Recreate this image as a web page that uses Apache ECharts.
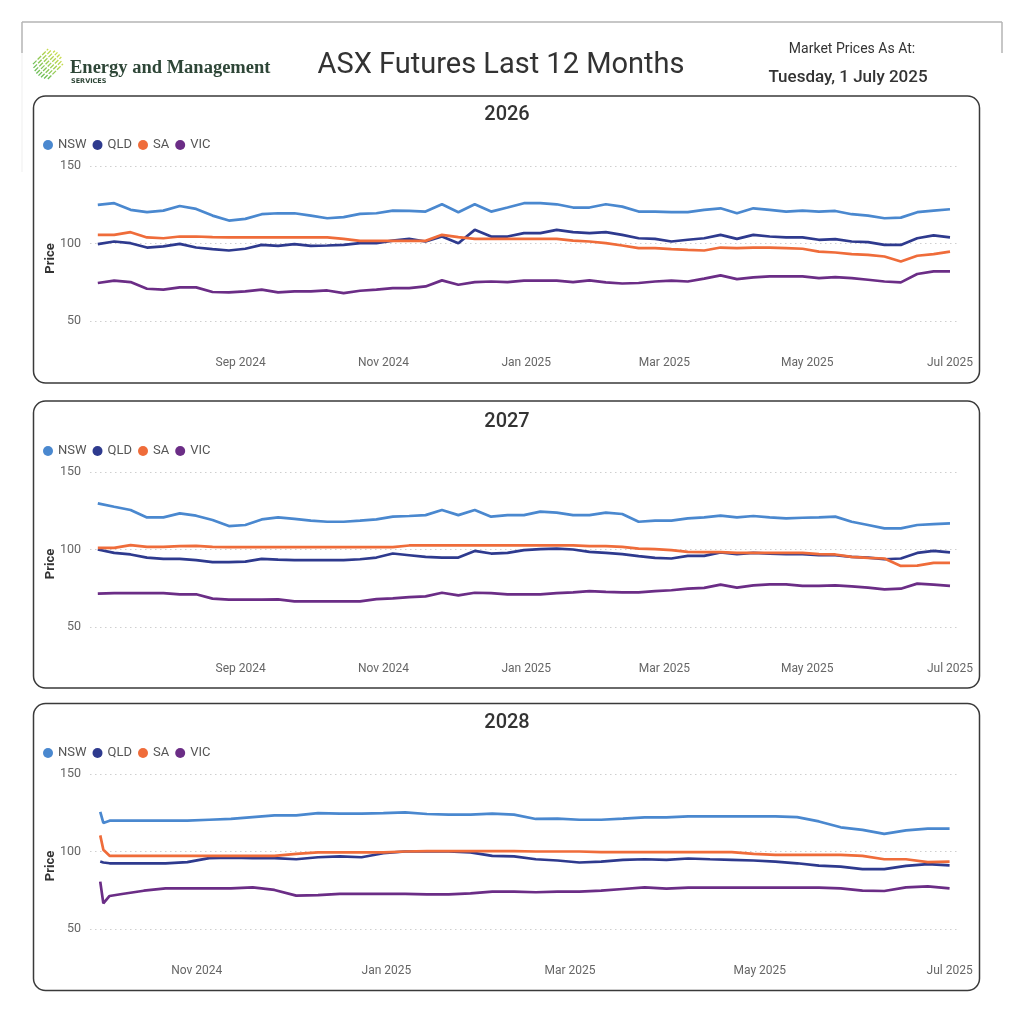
<!doctype html>
<html>
<head>
<meta charset="utf-8">
<title>ASX Futures Last 12 Months</title>
<script src="https://cdn.jsdelivr.net/npm/echarts@6/dist/echarts.min.js"></script>
<style>
    html, body { margin: 0; padding: 0; background: #fff; }
    #chart { width: 1023px; height: 1024px; }
</style>
</head>
<body>
<div id="chart"></div>
<script type="text/javascript">

    // weekly closes, 2026 and 2027 contracts (Jul 2024 - Jul 2025)
    var datesA = ['2024-07-02','2024-07-09','2024-07-16','2024-07-23','2024-07-30',
        '2024-08-06','2024-08-13','2024-08-20','2024-08-27',
        '2024-09-03','2024-09-10','2024-09-17','2024-09-24',
        '2024-10-01','2024-10-08','2024-10-15','2024-10-22','2024-10-29',
        '2024-11-05','2024-11-12','2024-11-19','2024-11-26',
        '2024-12-03','2024-12-10','2024-12-17','2024-12-24','2024-12-31',
        '2025-01-07','2025-01-14','2025-01-21','2025-01-28',
        '2025-02-04','2025-02-11','2025-02-18','2025-02-25',
        '2025-03-04','2025-03-11','2025-03-18','2025-03-25',
        '2025-04-01','2025-04-08','2025-04-15','2025-04-22','2025-04-29',
        '2025-05-06','2025-05-13','2025-05-20','2025-05-27',
        '2025-06-03','2025-06-10','2025-06-17','2025-06-24','2025-07-01'];

    var nsw2026 = [124.9,126.0,121.7,120.2,121.2, 124.2,122.3,118.0,114.8, 115.9,118.9,119.5,119.5,
        118.0,116.3,117.0,119.1,119.5, 121.2,121.0,120.6,125.3, 120.2,125.3,120.6,123.2,126.0,
        126.0,125.3,123.2,123.2, 125.3,123.8,120.6,120.6, 120.2,120.2,121.7,122.7,
        119.5,122.7,121.7,120.6,121.2, 120.6,121.0,118.9,118.0, 116.3,116.7,120.2,121.2,122.1];
    var qld2026 = [99.6,101.3,100.2,97.4,98.1, 99.8,97.4,96.4,95.5, 96.6,99.1,98.5,99.6,
        98.5,98.7,99.1,100.2,100.2, 101.9,103.0,101.3,104.5, 100.2,108.8,104.5,104.5,106.7,
        106.7,108.8,107.3,106.7, 107.3,105.6,103.4,103.0, 101.3,102.4,103.4,105.6,
        103.0,105.6,104.5,103.9,103.9, 102.4,102.8,101.3,100.9, 99.1,99.1,103.4,105.2,103.9];
    var sa2026 = [105.6,105.6,107.3,103.9,103.4, 104.5,104.5,104.1,103.9, 103.9,103.9,103.9,103.9,
        103.9,103.9,103.0,101.7,101.7, 101.7,101.7,101.7,105.6, 104.1,103.0,103.0,103.0,103.0,
        103.0,103.0,101.9,101.3, 100.2,98.7,97.0,97.0, 96.4,95.9,95.5,97.4,
        97.0,97.4,97.4,97.0,96.6, 94.8,94.2,93.1,92.7, 91.6,88.4,92.1,93.1,94.8];
    var vic2026 = [74.5,76.0,75.1,70.8,70.2, 71.7,71.7,68.7,68.5, 69.1,70.2,68.5,69.1,
        69.1,69.7,68.0,69.5,70.2, 71.2,71.2,72.3,76.2, 73.4,75.1,75.5,75.1,76.0,
        76.0,76.0,75.1,76.2, 74.9,74.2,74.5,75.5, 76.0,75.5,77.3,79.4,
        77.0,78.1,78.8,78.8,78.8, 77.7,78.3,77.7,76.6, 75.5,74.9,80.3,82.0,82.0];

    var nsw2027 = [129.8,127.6,125.5,120.7,120.7, 123.3,121.8,119.0,115.1, 115.8,119.4,120.7,119.7,
        118.6,117.9,117.9,118.6,119.4, 121.2,121.6,122.2,125.5, 122.2,125.5,121.2,122.2,122.2,
        124.4,123.8,122.2,122.2, 123.8,122.9,117.9,118.6, 118.6,120.1,120.7,121.8,
        120.7,121.6,120.7,120.1,120.5, 120.7,121.2,117.9,115.8, 113.6,113.6,115.8,116.4,116.8];
    var qld2027 = [100.0,97.8,96.8,94.8,94.0, 94.0,93.1,91.8,91.8, 92.2,94.0,93.5,93.1,
        93.1,93.1,93.1,93.7,94.8, 97.4,96.3,95.2,94.8, 94.8,99.1,97.4,97.8,99.6,
        100.2,100.6,100.0,98.5, 97.8,97.0,95.7,94.6, 94.2,95.9,95.9,98.1,
        97.0,97.8,97.4,97.0,97.0, 96.3,96.3,95.2,94.8, 93.7,94.2,97.8,99.1,98.1];
    var sa2027 = [101.1,101.1,102.8,101.7,101.7, 102.2,102.4,101.7,101.5, 101.5,101.5,101.5,101.5,
        101.5,101.5,101.5,101.5,101.5, 101.5,102.6,102.6,102.6, 102.6,102.6,102.6,102.6,102.6,
        102.6,102.6,102.6,102.2, 102.2,101.7,100.6,100.2, 99.6,98.5,98.3,98.3,
        97.8,97.8,97.8,97.8,97.8, 97.0,96.8,95.2,94.6, 94.2,89.4,89.6,91.4,91.4];
    var vic2027 = [71.5,71.9,71.9,71.9,71.9, 71.1,71.1,68.3,67.6, 67.6,67.6,67.8,66.5,
        66.5,66.5,66.5,66.5,68.0, 68.5,69.3,69.8,72.1, 70.4,72.1,71.9,71.1,71.1,
        71.1,71.9,72.4,73.2, 72.6,72.4,72.4,73.2, 73.7,74.7,75.2,77.3,
        75.4,76.9,77.5,77.5,76.5, 76.5,76.9,76.2,75.4, 74.3,74.7,78.0,77.3,76.5];

    // 2028 contract only trades from Oct 2024
    var datesB = ['2024-10-01','2024-10-02','2024-10-04','2024-10-08','2024-10-15','2024-10-22','2024-10-29',
        '2024-11-05','2024-11-12','2024-11-19','2024-11-26',
        '2024-12-03','2024-12-10','2024-12-17','2024-12-24','2024-12-31',
        '2025-01-07','2025-01-14','2025-01-21','2025-01-28',
        '2025-02-04','2025-02-11','2025-02-18','2025-02-25',
        '2025-03-04','2025-03-11','2025-03-18','2025-03-25',
        '2025-04-01','2025-04-08','2025-04-15','2025-04-22','2025-04-29',
        '2025-05-06','2025-05-13','2025-05-20','2025-05-27',
        '2025-06-03','2025-06-10','2025-06-17','2025-06-24','2025-07-01'];

    var nsw2028 = [125.5,118.4,119.9,119.9,119.9,119.9,119.9, 120.5,121.0,122.2,123.3,
        123.3,124.8,124.4,124.4,124.8, 125.3,124.2,123.8,123.8, 124.4,123.8,121.0,121.2,
        120.5,120.5,121.2,122.0, 122.0,122.7,122.7,122.7,122.7, 122.7,122.2,119.4,115.6,
        114.0,111.4,113.6,114.7,114.7];
    var qld2028 = [93.5,92.9,92.4,92.4,92.4,92.4,93.1, 95.7,96.1,95.7,95.7,
        95.0,96.3,96.8,96.3,98.9, 100.0,100.0,100.0,99.4, 97.2,96.8,95.0,94.2,
        92.9,93.5,94.6,95.0, 94.6,95.5,95.0,94.6,94.2, 93.5,92.4,90.9,90.3,
        88.6,88.6,90.7,91.8,91.1];
    var sa2028 = [110.4,101.1,97.2,97.2,97.2,97.2,97.2, 97.2,97.2,97.2,97.2,
        98.5,99.4,99.4,99.4,99.4, 100.0,100.2,100.2,100.2, 100.2,100.2,100.0,100.0,
        100.0,99.6,99.6,99.6, 99.6,99.6,99.6,99.6,98.5, 97.8,97.8,97.8,97.8,
        97.2,95.0,95.0,93.1,93.5];
    var vic2028 = [80.6,66.5,71.3,72.6,74.7,76.2,76.2, 76.2,76.2,76.9,75.2,
        71.5,71.9,72.6,72.6,72.6, 72.6,72.4,72.4,73.0, 74.1,74.1,73.7,74.1,
        74.1,74.7,75.8,76.9, 76.0,76.7,76.7,76.7,76.7, 76.7,76.7,76.7,76.2,
        74.7,74.5,76.9,77.5,76.2];

    var regions = ['NSW', 'QLD', 'SA', 'VIC'];
    var ticksA = ['2024-09-01', '2024-11-01', '2025-01-01', '2025-03-01', '2025-05-01', '2025-07-01'];
    var ticksB = ['2024-11-01', '2025-01-01', '2025-03-01', '2025-05-01', '2025-07-01'];
    var yTicks = [50, 100, 150];

    var colors = ['#4A88CF', '#2E3A8E', '#EF6C3A', '#6B2D86'];
    var months = ['Jan','Feb','Mar','Apr','May','Jun','Jul','Aug','Sep','Oct','Nov','Dec'];
    var FONT = 'Roboto, "Open Sans", sans-serif';

    function ts(s) {
        var p = s.split('-');
        return Date.UTC(+p[0], +p[1] - 1, +p[2]);
    }

    // layout of the three panels (pixels)
    var panels = [
        { name: '2026', box: 96,  grid: 166, titleY: 115, legendY: 138.5, priceY: 258.5,
          dates: datesA, ticks: ticksA, min: Date.UTC(2024, 5, 28, 16), max: Date.UTC(2025, 6, 4, 10),
          values: [nsw2026, qld2026, sa2026, vic2026] },
        { name: '2027', box: 401, grid: 472, titleY: 421.5, legendY: 444.5, priceY: 564,
          dates: datesA, ticks: ticksA, min: Date.UTC(2024, 5, 28, 16), max: Date.UTC(2025, 6, 4, 10),
          values: [nsw2027, qld2027, sa2027, vic2027] },
        { name: '2028', box: 703.5, grid: 774, titleY: 722.5, legendY: 746.5, priceY: 866,
          dates: datesB, ticks: ticksB, min: Date.UTC(2024, 8, 27, 17), max: Date.UTC(2025, 6, 3, 17),
          values: [nsw2028, qld2028, sa2028, vic2028] }
    ];

    var grids = [], xAxes = [], yAxes = [], legends = [], series = [];
    var graphics = [
        // page frame
        { type: 'line', shape: { x1: 22, y1: 22, x2: 1002, y2: 22 }, style: { stroke: '#b4b4b4', lineWidth: 1.5 } },
        { type: 'line', shape: { x1: 22, y1: 22, x2: 22, y2: 53 }, style: { stroke: '#b4b4b4', lineWidth: 1.5 } },
        { type: 'line', shape: { x1: 22, y1: 53, x2: 22, y2: 172 }, style: { stroke: '#efefef', lineWidth: 1 } },
        { type: 'line', shape: { x1: 1002, y1: 22, x2: 1002, y2: 53 }, style: { stroke: '#b4b4b4', lineWidth: 1.5 } },
        // header text
        { type: 'text', x: 70, y: 68, style: { text: 'Energy and Management', fill: '#2E4637',
            font: 'bold 18.5px "Liberation Serif", "DejaVu Serif", serif', verticalAlign: 'middle' } },
        { type: 'text', x: 71, y: 81.5, style: { text: 'SERVICES', fill: '#2E4637',
            font: 'bold 6.5px "DejaVu Sans", sans-serif', verticalAlign: 'middle' } },
        { type: 'text', x: 501, y: 66, style: { text: 'ASX Futures Last 12 Months', fill: '#333',
            font: '29px ' + FONT, align: 'center', verticalAlign: 'middle' } },
        { type: 'text', x: 852, y: 49.5, style: { text: 'Market Prices As At:', fill: '#333',
            font: '14px ' + FONT, align: 'center', verticalAlign: 'middle' } },
        { type: 'text', x: 848, y: 77.5, style: { text: 'Tuesday, 1 July 2025', fill: '#333',
            font: '500 17px ' + FONT, align: 'center', verticalAlign: 'middle' } }
    ];

    // logo stripes
    for (var k = -10.5; k <= 10.5; k += 3) {
        var t = Math.sqrt(15 * 15 - k * k);
        var cx = 48 + k / Math.SQRT2, cy = 64 + k / Math.SQRT2;
        graphics.push({
            type: 'line',
            shape: { x1: cx - t / Math.SQRT2, y1: cy + t / Math.SQRT2, x2: cx + t / Math.SQRT2, y2: cy - t / Math.SQRT2 },
            style: {
                lineWidth: 1.3, lineDash: [5, 1.5],
                stroke: new echarts.graphic.LinearGradient(0, 1, 1, 0, [
                    { offset: 0, color: '#5DB85A' }, { offset: 1, color: '#D6E04A' }])
            }
        });
    }

    panels.forEach(function (p, i) {
        graphics.push({ type: 'rect', shape: { x: 33.5, y: p.box, width: 946, height: 287, r: 12 },
            style: { fill: 'none', stroke: '#3a3a3a', lineWidth: 1.5 } });
        graphics.push({ type: 'text', x: 507, y: p.titleY, style: { text: p.name, fill: '#333',
            font: '500 20px ' + FONT, align: 'center', verticalAlign: 'middle' } });
        graphics.push({ type: 'text', x: 50.5, y: p.priceY, rotation: Math.PI / 2, style: { text: 'Price',
            fill: '#333', font: 'bold 13px ' + FONT, align: 'center', verticalAlign: 'middle' } });

        grids.push({ left: 90, right: 65, top: p.grid, height: 155, containLabel: false });

        // dates held as UTC timestamps on a value axis so month ticks can be placed exactly
        xAxes.push({
            type: 'value', gridIndex: i, min: p.min, max: p.max, scale: true,
            axisLine: { show: false }, axisTick: { show: false }, splitLine: { show: false },
            axisLabel: {
                customValues: p.ticks.map(ts), margin: 36, color: '#666', fontSize: 12, fontFamily: FONT,
                formatter: function (v) {
                    var d = new Date(v);
                    return months[d.getUTCMonth()] + ' ' + d.getUTCFullYear();
                }
            }
        });

        yAxes.push({
            type: 'value', gridIndex: i, min: yTicks[0], max: yTicks[yTicks.length - 1], interval: 50,
            axisLine: { show: false }, axisTick: { show: false },
            axisLabel: { margin: 9, color: '#666', fontSize: 12.5, fontFamily: FONT },
            splitLine: { lineStyle: { color: '#cfcfcf', width: 1, type: [1.5, 3.5] } }
        });

        legends.push({
            data: regions, left: 43, top: p.legendY, padding: 0, icon: 'circle',
            itemWidth: 10, itemHeight: 10, itemGap: 6,
            textStyle: { color: '#555', fontSize: 13, fontFamily: FONT }
        });

        regions.forEach(function (r, j) {
            series.push({
                name: r, type: 'line', xAxisIndex: i, yAxisIndex: i,
                showSymbol: false, symbol: 'circle',
                itemStyle: { color: colors[j] },
                lineStyle: { color: colors[j], width: 2.7 },
                data: p.dates.map(function (d, n) { return [ts(d), p.values[j][n]]; })
            });
        });
    });

    var myChart = echarts.init(document.getElementById('chart'));
    myChart.setOption({
        animation: false,
        backgroundColor: '#fff',
        tooltip: { trigger: 'axis' },
        grid: grids,
        xAxis: xAxes,
        yAxis: yAxes,
        legend: legends,
        graphic: graphics,
        series: series
    });

</script>
</body>
</html>
